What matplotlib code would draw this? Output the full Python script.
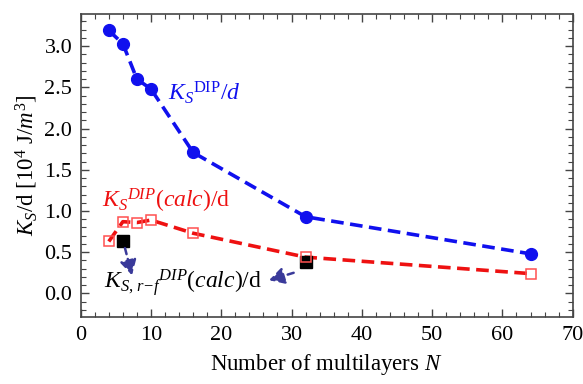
import matplotlib
matplotlib.use("Agg")
import matplotlib.pyplot as plt
from matplotlib.ticker import MultipleLocator

plt.rcParams['font.family'] = ['Liberation Serif', 'DejaVu Serif']
plt.rcParams['mathtext.fontset'] = 'custom'
plt.rcParams['mathtext.rm'] = 'Liberation Serif'
plt.rcParams['mathtext.it'] = 'Liberation Serif:italic'
plt.rcParams['mathtext.bf'] = 'Liberation Serif:bold'

# data
N = [4, 6, 8, 10, 16, 32, 64]
ks_dip = [3.19, 3.03, 2.60, 2.48, 1.71, 0.93, 0.48]
ks_calc = [0.63, 0.87, 0.86, 0.89, 0.73, 0.44, 0.24]
N_rf = [6, 32]
ks_rf = [0.63, 0.38]

blue = '#1010ee'
red = '#ee1111'
arrow_col = '#3a3a9a'
frame_col = '#444444'

fig = plt.figure(figsize=(5.83, 3.84), dpi=100)
ax = fig.add_axes([0.1384, 0.1737, 0.8439, 0.7898])

ax.plot(N, ks_dip, '--', color=blue, lw=2.6, dashes=(3.5, 1.8),
        marker='o', ms=8.5, mfc=blue, mec=blue, zorder=3)
ax.plot(N, ks_calc, '--', color=red, lw=2.6, dashes=(3.5, 1.8), zorder=2)
ax.plot(N_rf, ks_rf, 's', color='black', ms=8.5, zorder=3)
ax.plot(N, ks_calc, 's', ms=7, mfc='none', mec='#ff5050', mew=1.1, zorder=4)

# arrows pointing to the black squares
arrow_kw = dict(arrowstyle='-|>,head_length=0.9,head_width=0.5', color=arrow_col,
                lw=1.8, linestyle=(0, (2.5, 2)), shrinkA=0, shrinkB=0)
ax.annotate('', xy=(7.3, 0.22), xytext=(6.3, 0.55), arrowprops=arrow_kw)
ax.annotate('', xy=(26.8, 0.16), xytext=(30.3, 0.25), arrowprops=arrow_kw)

ax.text(12.4, 2.35, r'${K_S}^{\mathrm{DIP}}/d$', color=blue, fontsize=17,
        ha='left', va='baseline')
ax.text(3.1, 1.04, r'${K_S}^{DIP}(calc)/\mathrm{d}$', color=red, fontsize=17,
        ha='left', va='baseline')
ax.text(3.3, 0.06, r'${K_{S,\,r\!-\!f}}^{DIP}(calc)/\mathrm{d}$', color='black',
        fontsize=17, ha='left', va='baseline')

ax.set_xlim(0, 70)
ax.set_ylim(-0.29, 3.39)
ax.xaxis.set_major_locator(MultipleLocator(10))
ax.xaxis.set_minor_locator(MultipleLocator(2))
ax.yaxis.set_major_locator(MultipleLocator(0.5))
ax.yaxis.set_minor_locator(MultipleLocator(0.1))
ax.yaxis.set_major_formatter(matplotlib.ticker.FormatStrFormatter('%.1f'))

ax.tick_params(which='both', direction='in', top=True, right=True,
               color=frame_col, labelsize=16, pad=6)
ax.tick_params(which='major', length=6, width=1)
ax.tick_params(which='minor', length=3.5, width=0.8)
for s in ax.spines.values():
    s.set_color(frame_col)
    s.set_linewidth(1.2)

ax.set_xlabel(r'Number of multilayers $N$', fontsize=16.5, labelpad=5)
ax.set_ylabel(r'$K_S/\mathrm{d}$ [10$^4$ J/$m^3$]', fontsize=16.5, labelpad=3)

fig.savefig('out.png', dpi=100)
